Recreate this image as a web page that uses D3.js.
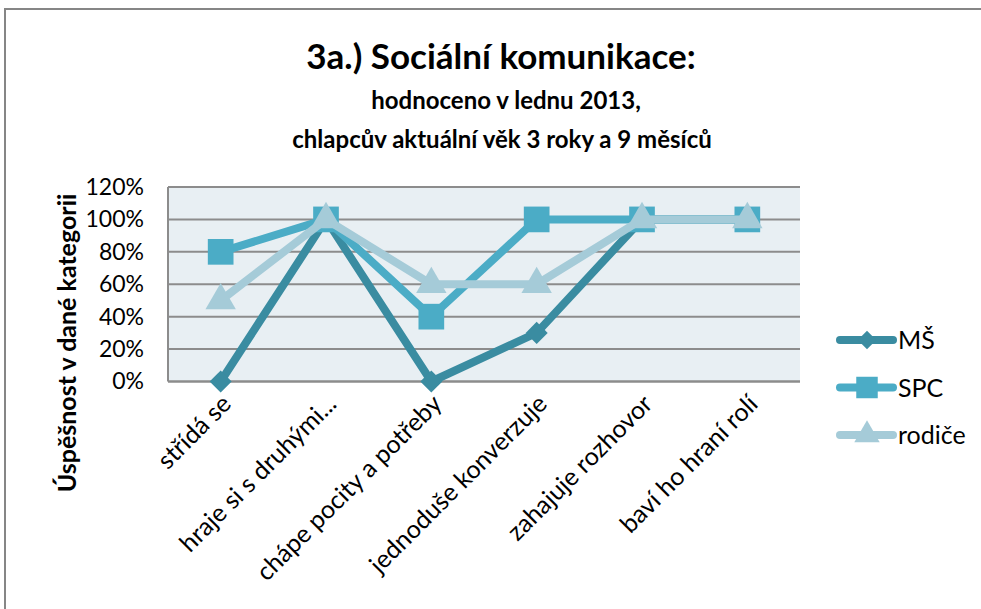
<!DOCTYPE html>
<html>
<head>
<meta charset="utf-8">
<script src="https://cdn.jsdelivr.net/npm/d3@7"></script>
<style>
  body { margin: 0; background: #fff; }
  text { font-family: Lato, "Open Sans", sans-serif; fill: #000; }
</style>
</head>
<body>
<svg id="chart" width="981" height="609"></svg>
<script>
// categories along the x axis
const categories = ["střídá se", "hraje si s druhými...", "chápe pocity a potřeby",
                    "jednoduše konverzuje", "zahajuje rozhovor", "baví ho hraní rolí"];
// values in percent
const ms      = [0, 100, 0, 30, 100, 100];
const spc     = [80, 100, 40, 100, 100, 100];
const rodice  = [50, 100, 60, 60, 100, 100];
const seriesNames = ["MŠ", "SPC", "rodiče"];
const yTicks = [0, 20, 40, 60, 80, 100, 120];

const colors = {"MŠ": "#3a8ca1", "SPC": "#4bacc6", "rodiče": "#a5cbd8"};
const symbols = {"MŠ": d3.symbolDiamond2, "SPC": d3.symbolSquare, "rodiče": d3.symbolTriangle};
const symSize = {"MŠ": 310, "SPC": 660, "rodiče": 400};

const series = [
  {name: "MŠ", values: ms},
  {name: "SPC", values: spc},
  {name: "rodiče", values: rodice}
];

const svg = d3.select("#chart");

// outer frame
svg.append("rect")
   .attr("x", 5).attr("y", 9).attr("width", 1000).attr("height", 620)
   .attr("fill", "#fff").attr("stroke", "#868686").attr("stroke-width", 2);

// titles
svg.append("text").attr("x", 501).attr("y", 69).attr("text-anchor", "middle")
   .style("font-size", "35px").style("font-weight", "bold")
   .text("3a.) Sociální komunikace:");
svg.append("text").attr("x", 506).attr("y", 109).attr("text-anchor", "middle")
   .style("font-size", "24px").style("font-weight", "bold")
   .text("hodnoceno v lednu 2013,");
svg.append("text").attr("x", 502).attr("y", 148).attr("text-anchor", "middle")
   .style("font-size", "24px").style("font-weight", "bold")
   .text("chlapcův aktuální věk 3 roky a 9 měsíců");

const plot = {left: 168, right: 800, top: 187, bottom: 381.5};

const x = d3.scaleBand().domain(categories).range([plot.left, plot.right]);
const y = d3.scaleLinear().domain([0, 120]).range([plot.bottom, plot.top]);
const cx = d => x(d) + x.bandwidth() / 2;

// plot background
svg.append("rect")
   .attr("x", plot.left).attr("y", plot.top)
   .attr("width", plot.right - plot.left).attr("height", plot.bottom - plot.top)
   .attr("fill", "#e8eff3");

// gridlines
svg.append("g").selectAll("line")
   .data(yTicks)
   .join("line")
   .attr("x1", plot.left).attr("x2", plot.right)
   .attr("y1", d => y(d)).attr("y2", d => y(d))
   .attr("stroke", "#8c8c8c").attr("stroke-width", d => d === 0 ? 2.5 : 2);

// left border of plot
svg.append("line")
   .attr("x1", plot.left).attr("x2", plot.left)
   .attr("y1", plot.top).attr("y2", plot.bottom)
   .attr("stroke", "#8c8c8c").attr("stroke-width", 2);

// y axis
const yAxis = svg.append("g")
   .attr("transform", `translate(${plot.left},0)`)
   .call(d3.axisLeft(y).tickValues(yTicks).tickFormat(d => d + "%").tickSize(0).tickPadding(24));
yAxis.select(".domain").remove();
yAxis.selectAll("text").style("font-size", "23px").style("font-family", "Lato, sans-serif").attr("fill", "#000");

// y axis title
svg.append("text")
   .attr("transform", "translate(76,343) rotate(-90)")
   .attr("text-anchor", "middle")
   .style("font-size", "25px").style("font-weight", "bold")
   .text("Úspěšnost v dané kategorii");

// x axis labels
const xAxis = svg.append("g")
   .attr("transform", `translate(0,${plot.bottom})`)
   .call(d3.axisBottom(x).tickSize(0).tickPadding(0));
xAxis.select(".domain").remove();
xAxis.selectAll("text")
   .style("font-size", "25px").style("font-family", "Lato, sans-serif").attr("fill", "#000")
   .attr("text-anchor", "end")
   .attr("dy", 0)
   .attr("transform", "translate(12,24) rotate(-45)");

// lines and markers
const line = d3.line()
   .x((d, i) => cx(categories[i]))
   .y(d => y(d));

series.forEach(s => {
  svg.append("path")
     .datum(s.values)
     .attr("d", line)
     .attr("fill", "none")
     .attr("stroke", colors[s.name])
     .attr("stroke-width", 8)
     .attr("stroke-linejoin", "round");
  svg.append("g").selectAll("path")
     .data(s.values)
     .join("path")
     .attr("transform", (d, i) => `translate(${cx(categories[i])},${y(d)})`)
     .attr("d", d3.symbol().type(symbols[s.name]).size(symSize[s.name]))
     .attr("fill", colors[s.name]);
});

// legend
const legend = svg.append("g");
const legY = d3.scalePoint().domain(seriesNames).range([340, 435]);
seriesNames.forEach(n => {
  const g = legend.append("g").attr("transform", `translate(0,${legY(n)})`);
  g.append("line").attr("x1", 840).attr("x2", 893).attr("y1", 0).attr("y2", 0)
   .attr("stroke", colors[n]).attr("stroke-width", 8).attr("stroke-linecap", "round");
  g.append("path").attr("transform", "translate(867,0)")
   .attr("d", d3.symbol().type(symbols[n]).size(symSize[n] * 0.7))
   .attr("fill", colors[n]);
  g.append("text").attr("x", 898).attr("y", 9)
   .style("font-size", "25px").text(n);
});
</script>
</body>
</html>
